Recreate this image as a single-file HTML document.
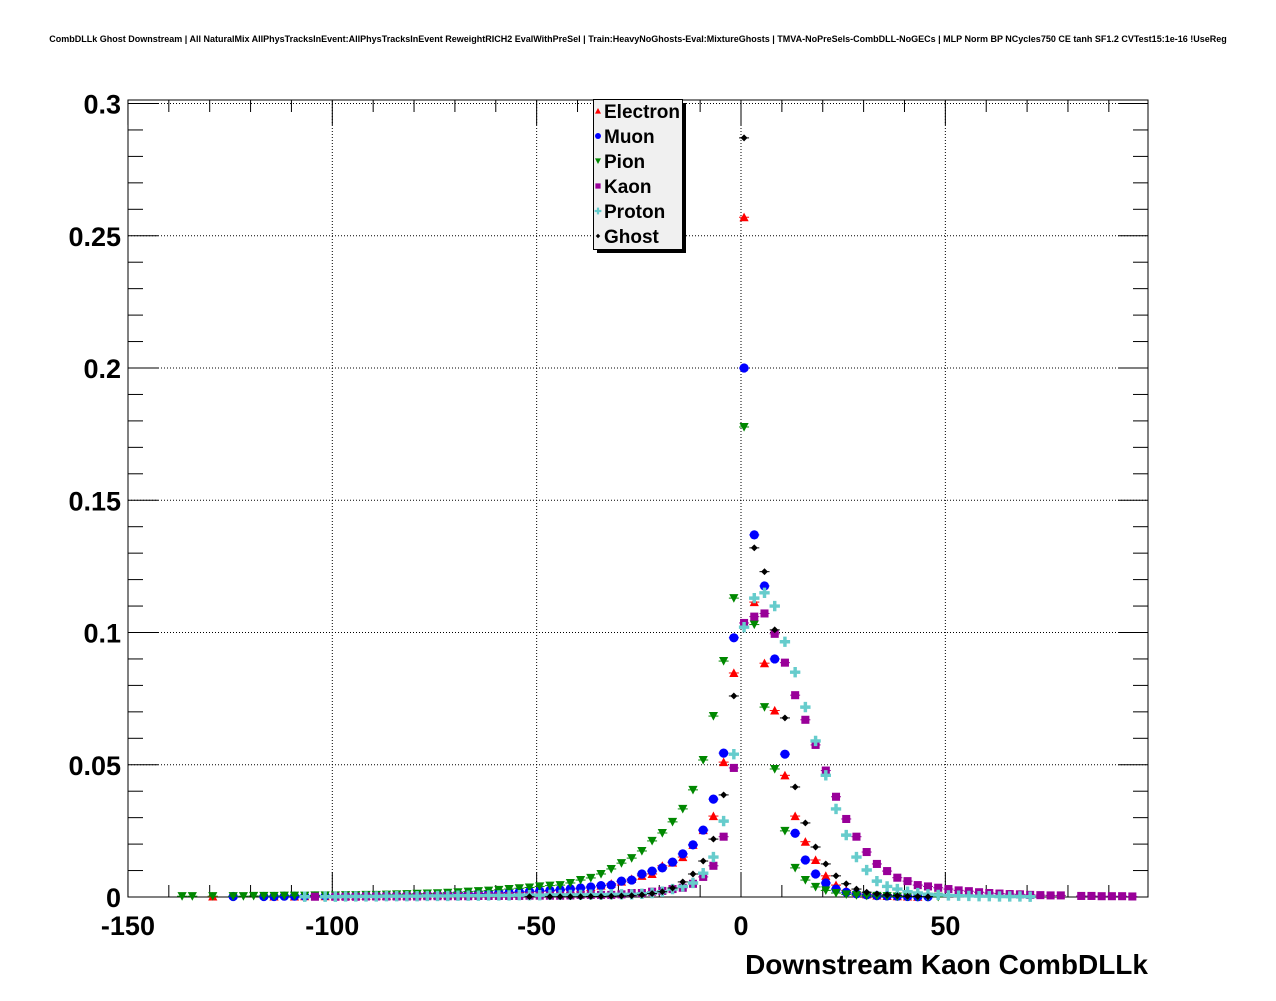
<!DOCTYPE html>
<html><head><meta charset="utf-8"><style>
body{margin:0;background:#fff;}
svg text{font-family:"Liberation Sans",Arial,sans-serif;font-weight:bold;}
</style></head><body>
<svg id="chart" width="1276" height="996" xmlns="http://www.w3.org/2000/svg">
<rect width="1276" height="996" fill="#fff"/>
<text x="638" y="42" font-size="9.0" text-anchor="middle">CombDLLk Ghost Downstream | All NaturalMix AllPhysTracksInEvent:AllPhysTracksInEvent ReweightRICH2 EvalWithPreSel | Train:HeavyNoGhosts-Eval:MixtureGhosts | TMVA-NoPreSels-CombDLL-NoGECs | MLP Norm BP NCycles750 CE tanh SF1.2 CVTest15:1e-16 !UseReg</text>
<g id="grid"></g>
<g id="axes"></g>
<g id="marks"></g>
<g id="legend"></g>
<text x="1148" y="974" font-size="28" text-anchor="end">Downstream Kaon CombDLLk</text>
</svg>
<script>
// Data: bins of width 2.5, centres at 0.75 + 2.5*k, k from -55 to 38
const kStart = -55;
const xTickLabels = ["-150","-100","-50","0","50"];
const xTickValues = [-150,-100,-50,0,50];
const yTickLabels = ["0","0.05","0.1","0.15","0.2","0.25","0.3"];
const yTickValues = [0,0.05,0.1,0.15,0.2,0.25,0.3];
const seriesNames = ["Electron","Muon","Pion","Kaon","Proton","Ghost"];

const electron = [0,0,0,0.0002,0,0,0,0,0,0.0002,0,0.0002,0.0003,0,0.0003,0.0003,0.0004,0.0004,0.0004,0.0005,0.0005,0.0006,0.0006,0.0007,0.0007,0.0008,0.0009,0.001,0.0011,0.0012,0.0013,0.0014,0.0016,0.0017,0.0019,0.0021,0.0023,
 0.0025,0.0029,0.0033,0.0038,0.0043,0.005,0.0058,0.0068,0.008,0.0087,0.0118,0.013,0.0151,0.0197,0.0253,0.0306,0.051,0.0847,
 0.257,0.1115,0.0884,0.0705,0.046,0.0306,0.0209,0.014,0.008,0.0045,0.0025,0.0015,0.001,0.0006,0.0004,0.0003,0.0002,0.0001,0,
 0,0,0,0,0,0,0,0,0,0,0,0,0,0,0,0,0,0,0,0];
const muon = [0,0,0,0,0,0.0002,0,0,0.0002,0.0002,0.0003,0.0003,0.0003,0.0004,0.0004,0.0004,0.0005,0.0005,0.0005,0.0006,0.0006,0.0007,0.0007,0.0008,0.0008,0.0009,0.001,0.0011,0.0012,0.0013,0.0014,0.0016,0.0017,0.0019,0.0021,0.0023,0.0025,
 0.0028,0.0031,0.0034,0.0038,0.0043,0.0045,0.006,0.0064,0.0087,0.0098,0.011,0.0132,0.0163,0.0197,0.0253,0.037,0.0544,0.098,
 0.2,0.1369,0.1176,0.09,0.054,0.0241,0.014,0.0087,0.0053,0.003,0.0018,0.0012,0.0008,0.0005,0.0004,0.0003,0.0002,0.0001,0.0001,
 0,0,0,0,0,0,0,0,0,0,0,0,0,0,0,0,0,0,0,0];
const pion = [0.0003,0.0003,0,0.0003,0,0.0003,0.0003,0.0004,0.0004,0.0004,0.0005,0.0005,0.0005,0.0006,0.0006,0.0006,0.0007,0.0007,0.0008,0.0008,0.0009,0.001,0.0011,0.0012,0.0013,0.0014,0.0016,0.0018,0.002,0.0022,0.0024,0.0027,0.003,0.0033,0.0036,0.004,0.0043,
 0.0045,0.0053,0.0064,0.0072,0.0087,0.0106,0.0128,0.0147,0.0174,0.0212,0.0242,0.0284,0.0333,0.0405,0.0518,0.0684,0.0892,0.113,
 0.1777,0.103,0.0718,0.0484,0.025,0.011,0.0064,0.0038,0.0025,0.0015,0.001,0.0007,0.0005,0.0004,0.0003,0.0002,0.0002,0.0001,0.0001,
 0.0001,0,0,0,0,0,0,0,0,0,0,0,0,0,0,0,0,0,0,0];
const kaon = [0,0,0,0,0,0,0,0,0,0,0,0,0,0.0001,0,0.0001,0.0001,0.0001,0.0002,0.0002,0.0002,0.0002,0.0002,0.0002,0.0003,0.0003,0.0003,0.0003,0.0003,0.0004,0.0004,0.0004,0.0004,0.0004,0.0005,0.0005,0.0005,
 0.0005,0.0006,0.0008,0.0008,0.0008,0.0008,0.001,0.0015,0.0015,0.002,0.0023,0.003,0.0035,0.005,0.0076,0.0118,0.0228,0.0488,
 0.1036,0.106,0.1072,0.0995,0.0886,0.0763,0.067,0.0575,0.0478,0.0379,0.0295,0.0228,0.017,0.0125,0.0098,0.0073,0.006,0.0045,0.004,
 0.0035,0.003,0.0025,0.0022,0.0018,0.0015,0.0013,0.0011,0.001,0.0008,0.0007,0.0006,0.0006,0,0.0004,0.0004,0.0003,0.0003,0.0003,0.0002];
const proton = [0,0,0,0,0,0,0,0,0,0,0,0,0.0001,0,0.0001,0.0001,0.0002,0.0002,0.0002,0.0002,0.0003,0.0003,0.0003,0.0003,0.0004,0.0004,0.0004,0.0005,0.0005,0.0005,0.0006,0.0006,0.0006,0.0007,0.0007,0.0007,0.0008,
 0.0008,0.0008,0.0008,0.0009,0.0009,0.001,0.001,0.001,0.0012,0.0015,0.002,0.003,0.004,0.0053,0.009,0.0151,0.0287,0.054,
 0.102,0.113,0.115,0.11,0.0965,0.085,0.0718,0.059,0.046,0.0333,0.0234,0.0151,0.0102,0.006,0.004,0.003,0.002,0.0015,0.001,
 0.0008,0.0006,0.0005,0.0004,0.0003,0.0003,0.0002,0.0002,0.0002,0.0001,0,0,0,0,0,0,0,0,0,0];
const ghost = [0,0,0,0,0,0,0,0,0,0,0,0,0,0,0,0,0,0,0,0,0,0,0,0,0,0,0,0,0,0,0,0,0,0,0.0001,0,0.0001,
 0.0001,0.0001,0.0001,0.0002,0.0002,0.0003,0.0004,0.0005,0.0008,0.0013,0.002,0.0034,0.0057,0.0087,0.0136,0.0219,0.0386,0.076,
 0.287,0.132,0.123,0.101,0.0677,0.0416,0.028,0.0189,0.0125,0.008,0.005,0.003,0.0018,0.0012,0.0008,0.0005,0.0003,0.0002,0.0001,
 0,0,0,0,0,0,0,0,0,0,0,0,0,0,0,0,0,0,0,0];

const NS="http://www.w3.org/2000/svg";
const X0=128, X1=1148, Y0=897, Y1=100;
const xScale = v => 741 + v*4.087;
const yScale = v => 897 - v*2645;
function mk(tag, attrs, parent){const e=document.createElementNS(NS,tag);for(const k in attrs)e.setAttribute(k,attrs[k]);parent.appendChild(e);return e;}
const grid=document.getElementById('grid'), axes=document.getElementById('axes'), marks=document.getElementById('marks'), legend=document.getElementById('legend');

xTickValues.forEach(v=>{ if(v===-150) return;
  const l=mk('line',{x1:xScale(v),x2:xScale(v),y1:Y0,y2:Y1,stroke:'#000','stroke-width':1,'stroke-dasharray':'1,2'},grid);
  
  
});
yTickValues.forEach(v=>{ if(v===0) return;
  const l=mk('line',{x1:X0,x2:X1,y1:yScale(v),y2:yScale(v),stroke:'#000','stroke-width':1,'stroke-dasharray':'1,2'},grid);
  
  
});
const fr=mk('rect',{x:X0,y:Y1,width:X1-X0,height:Y0-Y1,fill:'none',stroke:'#000','stroke-width':1},axes);


for(let v=-150; v<=100; v+=10){
  const px=xScale(v); if(px>X1) break;
  const len = (v%50===0)?25:12;
  mk('line',{x1:px,x2:px,y1:Y0,y2:Y0-len,stroke:'#000'},axes);
  mk('line',{x1:px,x2:px,y1:Y1,y2:Y1+len,stroke:'#000'},axes);
}
xTickValues.forEach((v,i)=>{
  const t=mk('text',{x:xScale(v),y:935,'font-size':27,'text-anchor':'middle'},axes);
  t.textContent=xTickLabels[i];
  
  
});
for(let i=0;i<=30;i++){
  const v=i*0.01; const py=yScale(v); if(py<Y1-1) break;
  const len=(i%5===0)?30:15;
  mk('line',{x1:X0,x2:X0+len,y1:py,y2:py,stroke:'#000'},axes);
  mk('line',{x1:X1,x2:X1-len,y1:py,y2:py,stroke:'#000'},axes);
}
yTickValues.forEach((v,i)=>{
  const t=mk('text',{x:121,y:yScale(v)+10,'font-size':27,'text-anchor':'end'},axes);
  t.textContent=yTickLabels[i];
  
  
});

function marker(kind,color,cx,cy,parent,s){
  s=s||1;
  if(kind==='tri-up') return mk('polygon',{points:`${cx-4*s},${cy+3.5*s} ${cx+4*s},${cy+3.5*s} ${cx},${cy-4*s}`,fill:color},parent);
  if(kind==='circle') return mk('circle',{cx:cx,cy:cy,r:4*s,fill:color},parent);
  if(kind==='tri-down') return mk('polygon',{points:`${cx-4*s},${cy-3.5*s} ${cx+4*s},${cy-3.5*s} ${cx},${cy+4*s}`,fill:color},parent);
  if(kind==='square') return mk('rect',{x:cx-3.5*s,y:cy-3.5*s,width:7*s,height:7*s,fill:color},parent);
  if(kind==='cross') return mk('path',{d:`M${cx-4.5*s},${cy-1.5*s}h${3*s}v${-3*s}h${3*s}v${3*s}h${3*s}v${3*s}h${-3*s}v${3*s}h${-3*s}v${-3*s}h${-3*s}z`,fill:color},parent);
  return mk('polygon',{points:`${cx-3*s},${cy} ${cx},${cy-3*s} ${cx+3*s},${cy} ${cx},${cy+3*s}`,fill:color},parent);
}
const series=[
 {name:'electron',data:electron,kind:'tri-up',color:'#ff0000'},
 {name:'muon',data:muon,kind:'circle',color:'#0000ff'},
 {name:'pion',data:pion,kind:'tri-down',color:'#008800'},
 {name:'kaon',data:kaon,kind:'square',color:'#990099'},
 {name:'proton',data:proton,kind:'cross',color:'#66cccc'},
 {name:'ghost',data:ghost,kind:'diamond',color:'#000000'}
];
series.forEach(s=>{
  const g=mk('g',{},marks);
  
  
  s.data.forEach((v,i)=>{
    if(!v) return;
    const x=0.75+2.5*(kStart+i);
    const cx=xScale(x), cy=yScale(v);
    if(cx<X0||cx>X1) return;
    mk('line',{x1:cx-5,x2:cx+5,y1:cy,y2:cy,stroke:s.color,'stroke-width':1},g);
    const m=marker(s.kind,s.color,cx,cy,g,1.15);
    
    
  });
});
mk('rect',{x:597,y:103,width:89,height:150,fill:'#000'},legend);
const lb=mk('rect',{x:593.5,y:99.5,width:89,height:150,fill:'#f0f0f0',stroke:'#000'},legend);


series.forEach((s,i)=>{
  const cy=111+i*25;
  const m=marker(s.kind,s.color,598,cy,legend,0.75);
  
  
  const t=mk('text',{x:604,y:cy+7,'font-size':19},legend);
  t.textContent=seriesNames[i];
  
  
});
</script>
</body></html>
